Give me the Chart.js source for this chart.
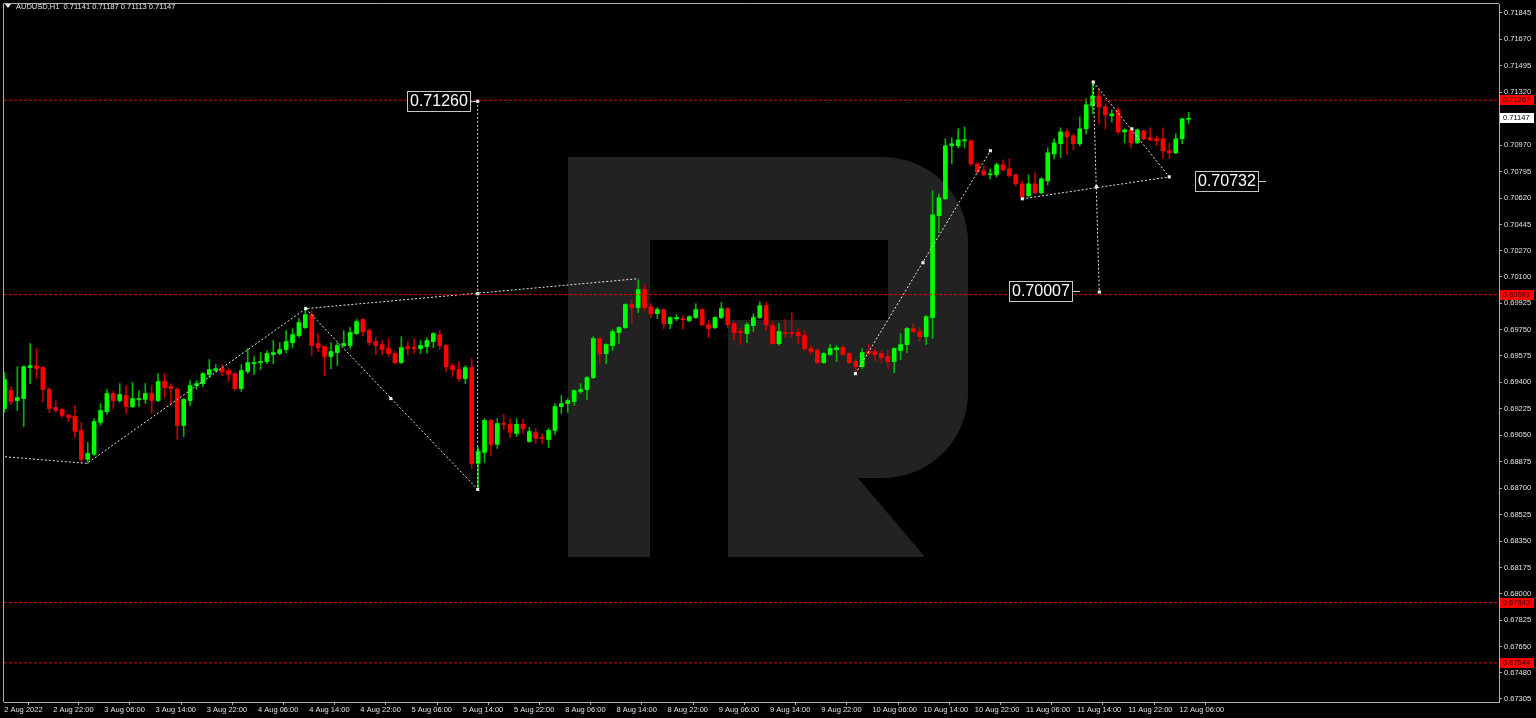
<!DOCTYPE html>
<html lang="en">
<head>
<meta charset="UTF-8" />
<title>AUDUSD,H1</title>
<script src="https://cdn.jsdelivr.net/npm/chart.js@4.4.1/dist/chart.umd.min.js"></script>
<style>
    html, body { margin: 0; padding: 0; background: #000; overflow: hidden; }
    #wrap { position: relative; width: 1536px; height: 718px; }
    #chart { display: block; }
    #title {
        position: absolute; left: 5px; top: 2px; color: #e6e6e6;
        font: 7.5px "Liberation Sans", Arial, sans-serif; line-height: 10px; white-space: pre;
    }
    #title .arrow {
        display: inline-block; width: 0; height: 0; margin-right: 5px; vertical-align: 1px;
        border-left: 3px solid transparent; border-right: 3px solid transparent; border-top: 4px solid #e6e6e6;
    }
</style>
</head>
<body>
<div id="wrap">
    <canvas id="chart" width="1536" height="718"></canvas>
    <div id="title"><span class="arrow"></span><span id="titleText"></span></div>
</div>

<script>
// AUDUSD H1 bars, 2 Aug 2022 14:00 .. 12 Aug 07:00 (weekend skipped)
const open = [
    0.69227, 0.69346, 0.69280, 0.69293, 0.69498, 0.69511, 0.69498, 0.69353, 0.69234, 0.69221,
    0.69181, 0.69174, 0.69082, 0.68890, 0.68924, 0.69135, 0.69207, 0.69326, 0.69280, 0.69313,
    0.69240, 0.69287, 0.69287, 0.69326, 0.69280, 0.69406, 0.69372, 0.69353, 0.69115, 0.69280,
    0.69379, 0.69392, 0.69452, 0.69478, 0.69491, 0.69478, 0.69458, 0.69359, 0.69472, 0.69524,
    0.69531, 0.69538, 0.69584, 0.69591, 0.69617, 0.69663, 0.69710, 0.69763, 0.69849, 0.69657,
    0.69637, 0.69571, 0.69597, 0.69644, 0.69644, 0.69723, 0.69816, 0.69743, 0.69670, 0.69650,
    0.69624, 0.69591, 0.69531, 0.69637, 0.69630, 0.69624, 0.69637, 0.69670, 0.69716, 0.69644,
    0.69511, 0.69485, 0.69425, 0.69498, 0.68864, 0.68937, 0.69148, 0.68990, 0.69128, 0.69122,
    0.69062, 0.69122, 0.69009, 0.69069, 0.69036, 0.69022, 0.69082, 0.69240, 0.69260, 0.69273,
    0.69340, 0.69353, 0.69432, 0.69690, 0.69591, 0.69644, 0.69730, 0.69763, 0.69915, 0.69895,
    0.70014, 0.69901, 0.69855, 0.69882, 0.69789, 0.69822, 0.69822, 0.69809, 0.69829, 0.69882,
    0.69782, 0.69763, 0.69829, 0.69888, 0.69789, 0.69736, 0.69723, 0.69776, 0.69829, 0.69908,
    0.69776, 0.69657, 0.69730, 0.69730, 0.69730, 0.69710, 0.69624, 0.69611, 0.69531, 0.69584,
    0.69617, 0.69630, 0.69591, 0.69538, 0.69504, 0.69604, 0.69604, 0.69591, 0.69571, 0.69538,
    0.69611, 0.69650, 0.69756, 0.69736, 0.69703, 0.69829, 0.70503, 0.70615, 0.70966, 0.70966,
    0.70999, 0.70999, 0.70846, 0.70800, 0.70774, 0.70774, 0.70840, 0.70813, 0.70774, 0.70714,
    0.70635, 0.70714, 0.70655, 0.70734, 0.70912, 0.70979, 0.71058, 0.71032, 0.70979, 0.71078,
    0.71230, 0.71296, 0.71223, 0.71164, 0.71203, 0.71058, 0.71071, 0.70985, 0.71065, 0.71019,
    0.71012, 0.71012, 0.70933, 0.70919, 0.71012, 0.71141
];
const high = [
    0.69465, 0.69372, 0.69504, 0.69510, 0.69657, 0.69624, 0.69504, 0.69366, 0.69280, 0.69227,
    0.69188, 0.69247, 0.69135, 0.69003, 0.69161, 0.69260, 0.69353, 0.69340, 0.69392, 0.69379,
    0.69399, 0.69346, 0.69392, 0.69379, 0.69458, 0.69458, 0.69392, 0.69366, 0.69293, 0.69412,
    0.69412, 0.69465, 0.69551, 0.69518, 0.69518, 0.69491, 0.69465, 0.69518, 0.69624, 0.69571,
    0.69597, 0.69611, 0.69677, 0.69663, 0.69743, 0.69756, 0.69822, 0.69901, 0.69875, 0.69723,
    0.69640, 0.69663, 0.69663, 0.69743, 0.69763, 0.69816, 0.69822, 0.69756, 0.69697, 0.69677,
    0.69690, 0.69604, 0.69703, 0.69670, 0.69690, 0.69677, 0.69697, 0.69730, 0.69743, 0.69650,
    0.69524, 0.69538, 0.69511, 0.69557, 0.68970, 0.69161, 0.69155, 0.69161, 0.69188, 0.69161,
    0.69161, 0.69155, 0.69102, 0.69095, 0.69062, 0.69095, 0.69260, 0.69313, 0.69293, 0.69353,
    0.69392, 0.69439, 0.69703, 0.69697, 0.69657, 0.69750, 0.69769, 0.69921, 0.69948, 0.70080,
    0.70047, 0.69921, 0.69895, 0.69888, 0.69835, 0.69849, 0.69842, 0.69842, 0.69921, 0.69888,
    0.69809, 0.69835, 0.69928, 0.69895, 0.69795, 0.69756, 0.69796, 0.69855, 0.69934, 0.69928,
    0.69796, 0.69789, 0.69816, 0.69862, 0.69756, 0.69743, 0.69644, 0.69624, 0.69597, 0.69650,
    0.69644, 0.69644, 0.69597, 0.69551, 0.69624, 0.69650, 0.69624, 0.69611, 0.69617, 0.69630,
    0.69723, 0.69763, 0.69789, 0.69763, 0.69842, 0.70668, 0.70648, 0.71012, 0.71019, 0.71078,
    0.71091, 0.71005, 0.70853, 0.70833, 0.70813, 0.70853, 0.70873, 0.70879, 0.70780, 0.70734,
    0.70774, 0.70787, 0.70754, 0.70952, 0.71012, 0.71085, 0.71078, 0.71045, 0.71157, 0.71276,
    0.71382, 0.71342, 0.71243, 0.71203, 0.71217, 0.71078, 0.71085, 0.71078, 0.71071, 0.71085,
    0.71032, 0.71085, 0.70985, 0.71045, 0.71150, 0.71187
];
const low = [
    0.69201, 0.69254, 0.69214, 0.69108, 0.69392, 0.69425, 0.69273, 0.69201, 0.69201, 0.69168,
    0.69141, 0.69036, 0.68870, 0.68864, 0.68917, 0.69115, 0.69188, 0.69227, 0.69267, 0.69194,
    0.69234, 0.69240, 0.69260, 0.69194, 0.69273, 0.69300, 0.69247, 0.69022, 0.69042, 0.69247,
    0.69353, 0.69372, 0.69432, 0.69472, 0.69445, 0.69406, 0.69346, 0.69340, 0.69458, 0.69452,
    0.69485, 0.69524, 0.69524, 0.69584, 0.69597, 0.69630, 0.69697, 0.69756, 0.69578, 0.69604,
    0.69445, 0.69491, 0.69511, 0.69637, 0.69624, 0.69716, 0.69710, 0.69644, 0.69584, 0.69584,
    0.69571, 0.69524, 0.69524, 0.69584, 0.69591, 0.69591, 0.69591, 0.69630, 0.69617, 0.69472,
    0.69439, 0.69406, 0.69392, 0.68831, 0.68690, 0.68870, 0.68917, 0.68963, 0.69089, 0.69036,
    0.69042, 0.69062, 0.69003, 0.68996, 0.68996, 0.68970, 0.69056, 0.69194, 0.69201, 0.69247,
    0.69326, 0.69287, 0.69425, 0.69531, 0.69524, 0.69611, 0.69657, 0.69756, 0.69789, 0.69862,
    0.69875, 0.69829, 0.69822, 0.69756, 0.69756, 0.69809, 0.69750, 0.69802, 0.69822, 0.69776,
    0.69697, 0.69756, 0.69822, 0.69763, 0.69683, 0.69650, 0.69663, 0.69736, 0.69822, 0.69743,
    0.69650, 0.69644, 0.69697, 0.69697, 0.69657, 0.69611, 0.69584, 0.69524, 0.69524, 0.69578,
    0.69538, 0.69578, 0.69524, 0.69465, 0.69491, 0.69578, 0.69544, 0.69531, 0.69491, 0.69465,
    0.69551, 0.69597, 0.69730, 0.69670, 0.69650, 0.69690, 0.70391, 0.70609, 0.70846, 0.70952,
    0.70952, 0.70833, 0.70780, 0.70767, 0.70747, 0.70760, 0.70800, 0.70760, 0.70701, 0.70622,
    0.70628, 0.70648, 0.70648, 0.70708, 0.70879, 0.70886, 0.70906, 0.70939, 0.70966, 0.71045,
    0.71177, 0.71111, 0.71078, 0.71124, 0.71045, 0.70985, 0.70952, 0.70979, 0.71005, 0.70999,
    0.70966, 0.70886, 0.70879, 0.70912, 0.70979, 0.71113
];
const close = [
    0.69419, 0.69273, 0.69300, 0.69504, 0.69511, 0.69491, 0.69353, 0.69227, 0.69214, 0.69181,
    0.69168, 0.69075, 0.68890, 0.68930, 0.69141, 0.69214, 0.69326, 0.69280, 0.69320, 0.69240,
    0.69293, 0.69293, 0.69326, 0.69280, 0.69406, 0.69366, 0.69359, 0.69115, 0.69287, 0.69379,
    0.69392, 0.69458, 0.69485, 0.69491, 0.69472, 0.69452, 0.69359, 0.69478, 0.69531, 0.69531,
    0.69538, 0.69591, 0.69597, 0.69617, 0.69670, 0.69716, 0.69796, 0.69849, 0.69644, 0.69630,
    0.69571, 0.69604, 0.69644, 0.69657, 0.69730, 0.69802, 0.69736, 0.69663, 0.69644, 0.69617,
    0.69591, 0.69531, 0.69630, 0.69624, 0.69624, 0.69644, 0.69677, 0.69723, 0.69644, 0.69504,
    0.69485, 0.69425, 0.69498, 0.68864, 0.68943, 0.69148, 0.68990, 0.69128, 0.69122, 0.69069,
    0.69122, 0.69095, 0.69075, 0.69029, 0.69029, 0.69082, 0.69240, 0.69260, 0.69280, 0.69346,
    0.69353, 0.69432, 0.69690, 0.69591, 0.69650, 0.69736, 0.69763, 0.69915, 0.69895, 0.70014,
    0.69895, 0.69855, 0.69882, 0.69789, 0.69829, 0.69829, 0.69816, 0.69835, 0.69882, 0.69782,
    0.69756, 0.69829, 0.69888, 0.69782, 0.69730, 0.69730, 0.69782, 0.69829, 0.69908, 0.69782,
    0.69657, 0.69736, 0.69723, 0.69723, 0.69710, 0.69624, 0.69604, 0.69531, 0.69591, 0.69624,
    0.69630, 0.69584, 0.69531, 0.69504, 0.69597, 0.69591, 0.69584, 0.69564, 0.69538, 0.69624,
    0.69650, 0.69756, 0.69736, 0.69703, 0.69835, 0.70509, 0.70622, 0.70966, 0.70979, 0.71005,
    0.71005, 0.70846, 0.70793, 0.70774, 0.70780, 0.70840, 0.70807, 0.70767, 0.70714, 0.70628,
    0.70714, 0.70655, 0.70747, 0.70919, 0.70985, 0.71058, 0.71025, 0.70979, 0.71078, 0.71237,
    0.71296, 0.71223, 0.71170, 0.71177, 0.71058, 0.71071, 0.70985, 0.71071, 0.71012, 0.71005,
    0.70999, 0.70933, 0.70919, 0.71012, 0.71144, 0.71147
];

// one time label every 8 bars
const xTickLabels = [
    '2 Aug 2022', '2 Aug 22:00', '3 Aug 06:00', '3 Aug 14:00', '3 Aug 22:00', '4 Aug 06:00',
    '4 Aug 14:00', '4 Aug 22:00', '5 Aug 06:00', '5 Aug 14:00', '5 Aug 22:00', '8 Aug 06:00',
    '8 Aug 14:00', '8 Aug 22:00', '9 Aug 06:00', '9 Aug 14:00', '9 Aug 22:00', '10 Aug 06:00',
    '10 Aug 14:00', '10 Aug 22:00', '11 Aug 06:00', '11 Aug 14:00', '11 Aug 22:00', '12 Aug 06:00'
];
const yTickLabels = [
    '0.71845', '0.71670', '0.71495', '0.71320', '0.71145', '0.70970', '0.70795', '0.70620', '0.70445',
    '0.70270', '0.70100', '0.69925', '0.69750', '0.69575', '0.69400', '0.69225', '0.69050', '0.68875',
    '0.68700', '0.68525', '0.68350', '0.68175', '0.68000', '0.67825', '0.67650', '0.67480', '0.67305'
];

// red horizontal levels
const levels = [0.71267, 0.69981, 0.67943, 0.67544];

// dotted analysis lines: [bar index, price]
const trendLines = [
    [[-0.55, 0.68910], [12.88, 0.68864], [47.07, 0.69888], [98.9, 0.70086]],
    [[47.07, 0.69888], [73.93, 0.68692], [73.93, 0.71260]],
    [[132.95, 0.69458], [154.03, 0.70933]],
    [[159.02, 0.70615], [181.98, 0.70760], [170.1, 0.71388], [171.05, 0.69998]]
];
const anchorPoints = [
    [47.07, 0.69888], [60.35, 0.69293], [73.93, 0.69987], [73.93, 0.68692], [73.93, 0.71260],
    [132.95, 0.69458], [143.5, 0.70192], [154.03, 0.70933], [159.02, 0.70615], [170.6, 0.70694],
    [181.98, 0.70760], [170.1, 0.71388], [176.15, 0.71078], [171.05, 0.69998]
];
// price tags drawn to the left of their anchor
const priceTags = [[73.93, 0.71260], [168.1, 0.70007], [197.1, 0.70732]];

const last = close.length - 1;
document.getElementById('titleText').textContent =
    'AUDUSD,H1  ' + [open[last], high[last], low[last], close[last]].map(v => v.toFixed(5)).join(' ');

const UP = '#00ff00', DOWN = '#ff0000';
const AXIS = '#b0b0b0', TEXT = '#e0e0e0';
const smallFont = { family: 'Liberation Sans', size: 7.5 };

const bars = open.map((_, i) => i);

// background + RoboForex style watermark
const backdrop = {
    id: 'backdrop',
    beforeDraw(chart) {
        const c = chart.ctx;
        c.save();
        c.fillStyle = '#000';
        c.fillRect(0, 0, chart.width, chart.height);
        c.restore();
    },
    beforeDatasetsDraw(chart) {
        const c = chart.ctx;
        c.save();
        c.fillStyle = '#222222';
        c.fillRect(568, 157, 82, 400);
        c.beginPath();
        c.moveTo(650, 157);
        c.lineTo(883, 157);
        c.arcTo(968, 157, 968, 242, 85);
        c.lineTo(968, 393);
        c.arcTo(968, 478, 883, 478, 85);
        c.lineTo(728, 478);
        c.lineTo(728, 320);
        c.lineTo(888, 320);
        c.lineTo(888, 240);
        c.lineTo(650, 240);
        c.closePath();
        c.fill();
        c.beginPath();
        c.moveTo(728, 478);
        c.lineTo(858, 478);
        c.lineTo(925, 557);
        c.lineTo(728, 557);
        c.closePath();
        c.fill();
        c.restore();
    }
};

// labels on top of the chart: price tags, axis boxes, frame
const overlay = {
    id: 'overlay',
    afterDatasetsDraw(chart) {
        const c = chart.ctx, xs = chart.scales.x, ys = chart.scales.y;
        c.save();
        c.font = '16px "Liberation Sans"';
        c.textBaseline = 'middle';
        c.textAlign = 'left';
        priceTags.forEach(([xi, p]) => {
            const x = Math.round(xs.getPixelForValue(xi));
            const y = Math.round(ys.getPixelForValue(p));
            const txt = p.toFixed(5);
            const w = Math.round(c.measureText(txt).width) + 5, h = 20;
            const bx = x - 8 - w;
            c.fillStyle = '#000';
            c.fillRect(bx, y - h / 2, w, h);
            c.strokeStyle = '#c8c8c8';
            c.lineWidth = 1;
            c.strokeRect(bx + 0.5, y - h / 2 + 0.5, w, h);
            c.fillStyle = '#ffffff';
            c.fillText(txt, bx + 3, y + 1);
            c.beginPath();
            c.moveTo(x - 8, y + 0.5);
            c.lineTo(x, y + 0.5);
            c.stroke();
        });
        c.restore();
    },
    afterDraw(chart) {
        const c = chart.ctx, ys = chart.scales.y, a = chart.chartArea;
        c.save();
        c.strokeStyle = AXIS;
        c.lineWidth = 1;
        c.beginPath();
        c.moveTo(a.left - 0.5, a.bottom);
        c.lineTo(a.left - 0.5, a.top - 0.5);
        c.lineTo(a.right, a.top - 0.5);
        c.stroke();

        c.font = '7.5px "Liberation Sans"';
        c.textBaseline = 'middle';
        c.textAlign = 'left';
        levels.forEach(p => {
            const y = Math.round(ys.getPixelForValue(p));
            c.fillStyle = '#ff0000';
            c.fillRect(a.right + 1, y - 5, 34, 10);
            c.fillStyle = '#3c0000';
            c.fillText(p.toFixed(5), a.right + 4, y);
        });
        const yc = Math.round(ys.getPixelForValue(close[last]));
        c.fillStyle = '#ffffff';
        c.fillRect(a.right + 1, yc - 5, 34, 10);
        c.fillStyle = '#000000';
        c.fillText(close[last].toFixed(5), a.right + 4, yc);
        c.restore();
    }
};

const lineSets = trendLines.map(pts => ({
    type: 'line',
    data: pts.map(p => ({ x: p[0], y: p[1] })),
    borderColor: '#e6e6e6',
    borderWidth: 1,
    borderDash: [2, 2],
    pointRadius: 0,
    order: 1
}));

const levelSets = levels.map(p => ({
    type: 'line',
    data: [{ x: -0.08, y: p }, { x: 233.5, y: p }],
    borderColor: '#e00000',
    borderWidth: 1,
    borderDash: [3, 2],
    pointRadius: 0,
    order: 1
}));

new Chart(document.getElementById('chart'), {
    type: 'bar',
    data: {
        datasets: [
            {
                data: bars.map(i => ({ x: i, y: [low[i], high[i]] })),
                backgroundColor: bars.map(i => close[i] >= open[i] ? '#00b400' : '#c00000'),
                barThickness: 1,
                grouped: false,
                order: 3
            },
            {
                data: bars.map(i => ({ x: i, y: [open[i], close[i]] })),
                backgroundColor: bars.map(i => close[i] >= open[i] ? UP : DOWN),
                barThickness: 4,
                minBarLength: 1,
                grouped: false,
                order: 2
            },
            ...levelSets,
            ...lineSets,
            {
                type: 'line',
                data: anchorPoints.map(p => ({ x: p[0], y: p[1] })),
                showLine: false,
                pointStyle: 'rect',
                pointRadius: 2.2,
                pointBackgroundColor: '#f0f0f0',
                pointBorderWidth: 0,
                order: 0
            }
        ]
    },
    options: {
        responsive: false,
        animation: false,
        devicePixelRatio: 1,
        layout: { padding: { left: 3, top: 3, right: 0, bottom: 0 } },
        plugins: { legend: { display: false }, tooltip: { enabled: false } },
        scales: {
            x: {
                type: 'linear',
                min: -0.08,
                max: 233.5,
                offset: false,
                grid: { display: true, drawOnChartArea: false, drawTicks: true, tickLength: 3, color: AXIS },
                border: { display: true, color: AXIS },
                ticks: {
                    autoSkip: false, maxRotation: 0, minRotation: 0, align: 'start', padding: 0,
                    color: TEXT, font: smallFont,
                    callback: (v, i) => xTickLabels[i]
                },
                afterBuildTicks: s => { s.ticks = xTickLabels.map((_, k) => ({ value: Math.max(k * 8 - 0.4, -0.05) })); },
                afterFit: s => { s.height = 16; s.paddingLeft = 0; s.paddingRight = 0; }
            },
            y: {
                type: 'linear',
                position: 'right',
                min: 0.67285,
                max: 0.71904,
                grid: { display: true, drawOnChartArea: false, drawTicks: true, tickLength: 3, color: AXIS },
                border: { display: true, color: AXIS },
                ticks: {
                    autoSkip: false, padding: 2, color: TEXT, font: smallFont,
                    callback: v => v.toFixed(5)
                },
                afterBuildTicks: s => { s.ticks = yTickLabels.map(t => ({ value: parseFloat(t) })); },
                afterFit: s => { s.width = 37; s.paddingTop = 0; s.paddingBottom = 0; }
            }
        }
    },
    plugins: [backdrop, overlay]
});
</script>
</body>
</html>
